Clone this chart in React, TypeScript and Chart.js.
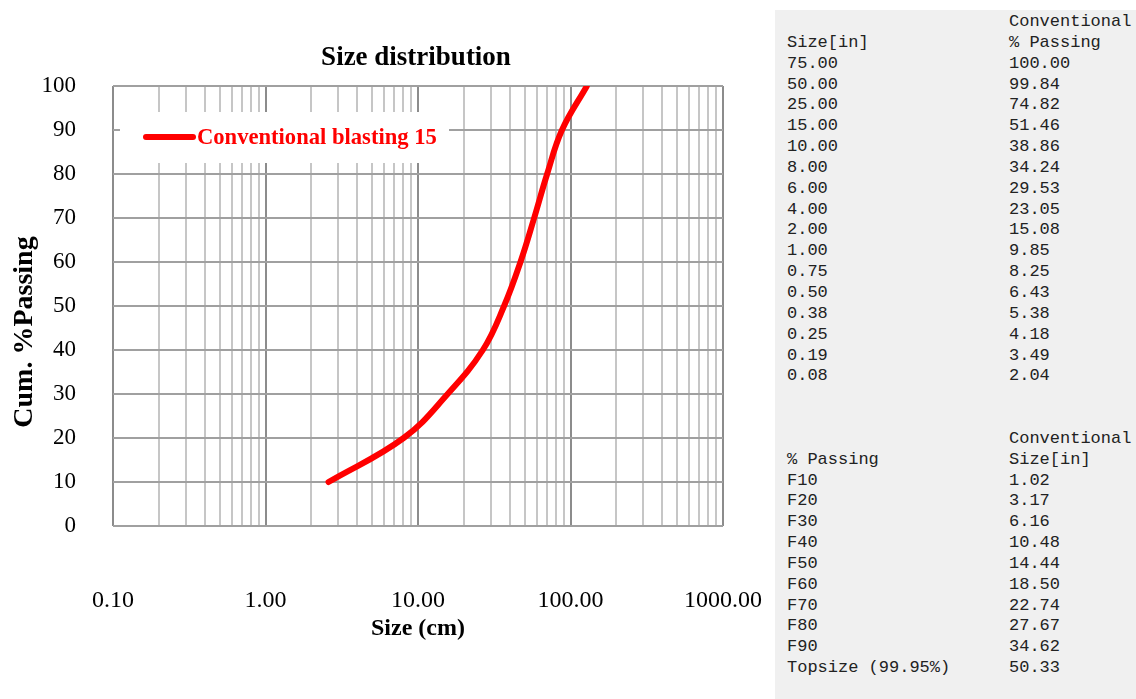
import React, { useEffect, useRef } from 'react';
import { Chart, registerables } from 'chart.js';

Chart.register(...registerables);

// ---------- data ----------
const chartTitle = 'Size distribution';
const seriesLabel = 'Conventional blasting 15';
const xAxisTitle = 'Size (cm)';
const yAxisTitle = 'Cum. %Passing';

// curve points (size in cm, cumulative % passing)
const sizeCm = [2.59, 8.05, 15.65, 26.62, 36.68, 46.99, 57.76, 70.28, 87.93, 127.84];
const cumPassing = [10, 20, 30, 40, 50, 60, 70, 80, 90, 99.95];

// axis ticks
const xMajorTicks = [0.1, 1, 10, 100, 1000];
const xMinorTicks = [
  0.2, 0.3, 0.4, 0.5, 0.6, 0.7, 0.8, 0.9,
  2, 3, 4, 5, 6, 7, 8, 9,
  20, 30, 40, 50, 60, 70, 80, 90,
  200, 300, 400, 500, 600, 700, 800, 900,
];
const yTicks = [0, 10, 20, 30, 40, 50, 60, 70, 80, 90, 100];

// side table
const tableHeader1 = ['', 'Conventional'];
const tableHeader2 = ['Size[in]', '% Passing'];
const tableSizeIn = ['75.00', '50.00', '25.00', '15.00', '10.00', '8.00', '6.00', '4.00', '2.00', '1.00', '0.75', '0.50', '0.38', '0.25', '0.19', '0.08'];
const tablePassing = ['100.00', '99.84', '74.82', '51.46', '38.86', '34.24', '29.53', '23.05', '15.08', '9.85', '8.25', '6.43', '5.38', '4.18', '3.49', '2.04'];
const fHeader1 = ['', 'Conventional'];
const fHeader2 = ['% Passing', 'Size[in]'];
const fLabels = ['F10', 'F20', 'F30', 'F40', 'F50', 'F60', 'F70', 'F80', 'F90', 'Topsize (99.95%)'];
const fSizeIn = ['1.02', '3.17', '6.16', '10.48', '14.44', '18.50', '22.74', '27.67', '34.62', '50.33'];

const SERIF = '"Liberation Serif", "Times New Roman", serif';
const RED = '#ff0000';

const legendPlugin = {
  id: 'boxLegend',
  beforeDatasetsDraw(chart: any) {
    const { ctx, chartArea } = chart;
    const ds = chart.data.datasets[0];
    const x0 = chartArea.left + 7;
    const y0 = chartArea.top + 26;
    ctx.save();
    ctx.fillStyle = '#ffffff';
    ctx.fillRect(x0, y0, 329, 51);
    const cy = y0 + 25;
    ctx.strokeStyle = ds.borderColor;
    ctx.lineWidth = 6;
    ctx.lineCap = 'round';
    ctx.beginPath();
    ctx.moveTo(x0 + 26, cy);
    ctx.lineTo(x0 + 73, cy);
    ctx.stroke();
    ctx.fillStyle = ds.borderColor;
    ctx.font = `bold 22.6px ${SERIF}`;
    ctx.textBaseline = 'middle';
    ctx.textAlign = 'left';
    ctx.fillText(ds.label, x0 + 77, cy + 1);
    ctx.restore();
  },
};

const titlesPlugin = {
  id: 'customTitles',
  afterDraw(chart: any) {
    const { ctx, chartArea } = chart;
    ctx.save();
    ctx.fillStyle = '#000';
    ctx.textAlign = 'center';
    ctx.textBaseline = 'middle';
    // chart title, centred over the plot area
    ctx.font = `bold 27px ${SERIF}`;
    ctx.fillText(chartTitle, (chartArea.left + chartArea.right) / 2 - 2, chartArea.top - 28);
    // y axis title
    ctx.translate(25, 332);
    ctx.rotate(-Math.PI / 2);
    ctx.font = `bold 28px ${SERIF}`;
    ctx.fillText(yAxisTitle, 0, 0);
    ctx.restore();
  },
};

function SizeChart() {
  const ref = useRef<HTMLCanvasElement | null>(null);
  useEffect(() => {
    if (!ref.current) return;
    const allX = [...xMajorTicks, ...xMinorTicks].sort((a, b) => a - b);
    const chart = new Chart(ref.current, {
      type: 'line',
      data: {
        datasets: [
          {
            label: seriesLabel,
            data: sizeCm.map((x, i) => ({ x, y: cumPassing[i] })),
            borderColor: RED,
            backgroundColor: RED,
            borderWidth: 6,
            pointRadius: 0,
            tension: 0.4,
            borderCapStyle: 'round',
            fill: false,
          },
        ],
      },
      options: {
        animation: false,
        responsive: false,
        maintainAspectRatio: false,
        layout: { padding: { left: 0, right: 109, top: 86, bottom: 0 } },
        plugins: {
          legend: { display: false },
          tooltip: { enabled: false },
          title: { display: false },
        },
        scales: {
          x: {
            type: 'logarithmic',
            min: 0.1,
            max: 1000,
            afterBuildTicks: (s: any) => {
              s.ticks = allX.map((v) => ({ value: v, major: xMajorTicks.includes(v) }));
            },
            afterFit: (s: any) => {
              s.height = 173;
            },
            grid: {
              drawTicks: false,
              lineWidth: 2,
              color: (c: any) =>
                c.tick && xMajorTicks.includes(c.tick.value) ? '#8c8c8c' : '#c6c6c6',
            },
            border: { display: false },
            ticks: {
              autoSkip: false,
              maxRotation: 0,
              minRotation: 0,
              padding: 60,
              color: '#000',
              font: { family: SERIF, size: 24 },
              callback: (v: any) => (xMajorTicks.includes(Number(v)) ? Number(v).toFixed(2) : ''),
            },
            title: {
              display: true,
              text: xAxisTitle,
              color: '#000',
              font: { family: SERIF, size: 24, weight: 'bold' },
              padding: { top: 0, bottom: 56 },
            },
          },
          y: {
            type: 'linear',
            min: 0,
            max: 100,
            afterBuildTicks: (s: any) => {
              s.ticks = yTicks.map((v) => ({ value: v }));
            },
            afterFit: (s: any) => {
              s.width = 113;
            },
            grid: { drawTicks: false, lineWidth: 2, color: '#a0a0a0' },
            border: { display: false },
            ticks: {
              padding: 37,
              color: '#000',
              font: { family: SERIF, size: 23 },
            },
          },
        },
      },
      plugins: [legendPlugin, titlesPlugin],
    } as any);
    return () => chart.destroy();
  }, []);
  return <canvas ref={ref} width={832} height={699} style={{ position: 'absolute', left: 0, top: 0, width: 832, height: 699 }} />;
}

function Row({ a, b }: { a: string; b: string }) {
  return (
    <div style={{ display: 'flex', height: '20.85px', whiteSpace: 'pre' }}>
      <span style={{ width: 222, flex: 'none' }}>{a}</span>
      <span>{b}</span>
    </div>
  );
}

function SideTable() {
  const rows: [string, string][] = [];
  rows.push([tableHeader1[0], tableHeader1[1]]);
  rows.push([tableHeader2[0], tableHeader2[1]]);
  tableSizeIn.forEach((s, i) => rows.push([s, tablePassing[i]]));
  rows.push(['', '']);
  rows.push(['', '']);
  rows.push([fHeader1[0], fHeader1[1]]);
  rows.push([fHeader2[0], fHeader2[1]]);
  fLabels.forEach((l, i) => rows.push([l, fSizeIn[i]]));
  return (
    <div
      style={{
        position: 'absolute',
        left: 775,
        top: 10,
        width: 361,
        height: 689,
        boxSizing: 'border-box',
        paddingLeft: 12,
        paddingTop: 2,
        background: '#f0f0f0',
        fontFamily: '"Liberation Mono", "Courier New", monospace',
        fontSize: 17,
        lineHeight: '20.85px',
        color: '#222222',
        overflow: 'hidden',
      }}
    >
      {rows.map((r, i) => (
        <Row key={i} a={r[0]} b={r[1]} />
      ))}
    </div>
  );
}

export default function App() {
  return (
    <div style={{ position: 'fixed', left: 0, top: 0, width: 1136, height: 699, background: '#fff', overflow: 'hidden' }}>
      <SizeChart />
      <SideTable />
    </div>
  );
}
